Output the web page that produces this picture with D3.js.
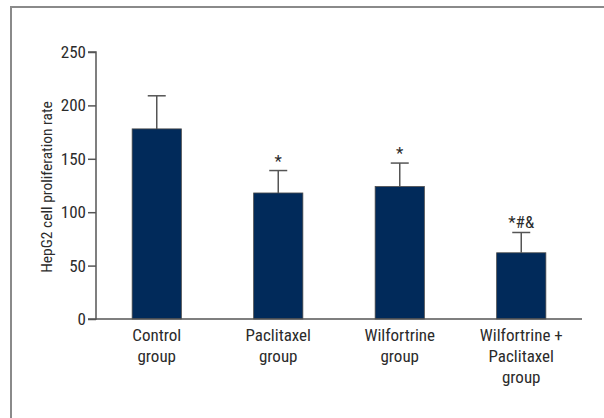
<!DOCTYPE html>
<html><head><meta charset="utf-8">
<script src="https://cdn.jsdelivr.net/npm/d3@7"></script>
<style>
html,body{margin:0;padding:0;background:#fff;}
svg{display:block;}
text{font-family:"Liberation Sans Narrow","Roboto Condensed","DejaVu Sans Condensed",sans-serif;fill:#2b2b2b;}
</style></head>
<body>
<svg id="chart" width="604" height="418"></svg>
<script>
const categories = [["Control","group"],["Paclitaxel","group"],["Wilfortrine","group"],["Wilfortrine +","Paclitaxel","group"]];
const means = [178, 118, 124, 62];
const errors = [31, 21, 22, 19];
const marks = ["", "*", "*", "*#&"];
const yTicks = [0, 50, 100, 150, 200, 250];

const svg = d3.select("#chart");
// frame
svg.append("rect").attr("x",11).attr("y",7).attr("width",620).attr("height",440)
  .attr("fill","none").attr("stroke","#8a8a8a").attr("stroke-width",2);

const x = d3.scaleBand().domain(d3.range(categories.length)).range([96,582]).paddingInner(0).paddingOuter(0);
const y = d3.scaleLinear().domain([0,250]).range([319,52]);

const barW = x.bandwidth()*0.405;
const g = svg.append("g");

// bars
g.selectAll("rect.bar").data(means).join("rect").attr("class","bar")
  .attr("x",(d,i)=>x(i)+x.bandwidth()/2-barW/2)
  .attr("y",d=>y(d))
  .attr("width",barW)
  .attr("height",d=>y(0)-y(d))
  .attr("fill","#012a5a").attr("stroke","#4a4a4a").attr("stroke-width",0.8);

// error bars
means.forEach((m,i)=>{
  const cx = x(i)+x.bandwidth()/2;
  g.append("line").attr("x1",cx).attr("x2",cx).attr("y1",y(m)).attr("y2",y(m+errors[i]))
    .attr("stroke","#555").attr("stroke-width",1.5);
  g.append("line").attr("x1",cx-9).attr("x2",cx+9).attr("y1",y(m+errors[i])).attr("y2",y(m+errors[i]))
    .attr("stroke","#555").attr("stroke-width",1.5);
  if(marks[i]) g.append("text").attr("x",cx).attr("y",y(m+errors[i])-4)
    .attr("text-anchor","middle").attr("font-size",17).text(marks[i]);
});

// y axis
const yAxis = g.append("g").attr("transform","translate(96,0)")
  .call(d3.axisLeft(y).tickValues(yTicks).tickSize(8).tickPadding(2));
yAxis.select(".domain").attr("stroke","#555").attr("stroke-width",1.5).attr("d","M-8,"+y(250)+"H0V"+y(0)+"H-8");
yAxis.selectAll(".tick line").attr("stroke","#555").attr("stroke-width",1.5);
yAxis.selectAll(".tick text").attr("font-size",17).attr("fill","#2b2b2b")
  .style("font-family",'"Liberation Sans Narrow","Roboto Condensed",sans-serif');

// x axis
g.append("line").attr("x1",96).attr("x2",582).attr("y1",y(0)).attr("y2",y(0))
  .attr("stroke","#555").attr("stroke-width",1.5);

categories.forEach((lines,i)=>{
  const cx = x(i)+x.bandwidth()/2;
  const t = g.append("text").attr("x",cx).attr("y",341).attr("text-anchor","middle").attr("font-size",17);
  lines.forEach((l,j)=>t.append("tspan").attr("x",cx).attr("dy",j===0?0:21).text(l));
});

// y title
g.append("text").attr("transform","translate(52,187) rotate(-90)").attr("text-anchor","middle")
  .attr("font-size",15.5).text("HepG2 cell proliferation rate");
</script>
</body></html>
